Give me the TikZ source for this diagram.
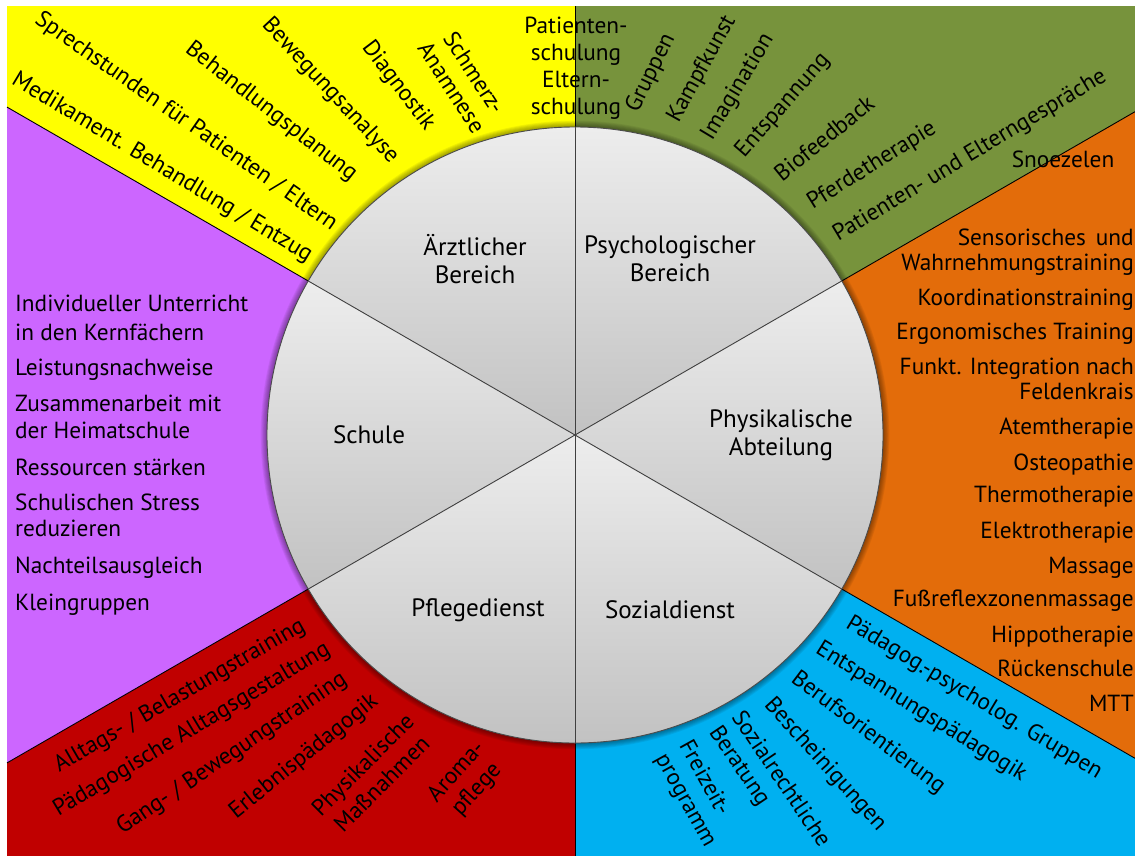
\documentclass[tikz,border=0pt]{standalone}
\usepackage{fontspec}
\setmainfont{PT Sans}
\begin{document}
\begin{tikzpicture}[x=1bp,y=-1bp,
  item/.style={font=\fontsize{23.4}{27}\selectfont, inner sep=0pt, text=black},
  fan/.style={item, anchor=center},
  fanblock/.style={item, anchor=center, align=center},
  sectlabel/.style={inner sep=0pt, align=center, font=\fontsize{25.2}{28}\selectfont},
  divider/.style={draw=black, line width=0.9bp},
  spoke/.style={draw=black!75, line width=0.9bp},
  wedge/.style={top color=black!7, bottom color=black!24}
]
\definecolor{cYellow}{RGB}{255,255,0}
\definecolor{cGreen}{RGB}{119,147,60}
\definecolor{cOrange}{RGB}{227,108,10}
\definecolor{cBlue}{RGB}{0,176,240}
\definecolor{cRed}{RGB}{192,0,0}
\definecolor{cPurple}{RGB}{204,102,255}

\useasboundingbox (0,0) rectangle (1135,856);
\coordinate (C) at (575,435);

% outer coloured fields, one per department
\coordinate (T)  at (575,6);
\coordinate (B)  at (575,856);
\coordinate (UL) at (7,107.1);
\coordinate (LL) at (7,762.9);
\coordinate (UR) at (1135,111.7);
\coordinate (LR) at (1135,758.3);
\fill[cYellow] (C) -- (UL) -- (7,6) -- (T) -- cycle;
\fill[cGreen]  (C) -- (T) -- (1135,6) -- (UR) -- cycle;
\fill[cOrange] (C) -- (UR) -- (LR) -- cycle;
\fill[cBlue]   (C) -- (LR) -- (1135,856) -- (B) -- cycle;
\fill[cRed]    (C) -- (B) -- (7,856) -- (LL) -- cycle;
\fill[cPurple] (C) -- (LL) -- (UL) -- cycle;

% field borders outside the disc
\coordinate (P90)  at (575,127);
\coordinate (P30)  at (841.7,281);
\coordinate (P330) at (841.7,589);
\coordinate (P270) at (575,743);
\coordinate (P210) at (308.3,589);
\coordinate (P150) at (308.3,281);
\draw[divider] (P90) -- (T);
\draw[divider] (P30) -- (UR);
\draw[divider] (P330) -- (LR);
\draw[divider] (P270) -- (B);
\draw[divider] (P210) -- (LL);
\draw[divider] (P150) -- (UL);

% soft shadow of the disc
\foreach \i in {1,...,7}
  \fill[black, opacity=0.06, shift={(0.5bp,-1.5bp)}] (C) circle[radius=308bp+\i*0.9bp];

% shaded wedges
\shade[wedge] (C) -- (P90)  arc[start angle=90,  end angle=30,  radius=308bp] -- cycle;
\shade[wedge] (C) -- (P30)  arc[start angle=30,  end angle=-30, radius=308bp] -- cycle;
\shade[wedge] (C) -- (P330) arc[start angle=-30, end angle=-90, radius=308bp] -- cycle;
\shade[wedge] (C) -- (P270) arc[start angle=270, end angle=210, radius=308bp] -- cycle;
\shade[wedge] (C) -- (P210) arc[start angle=210, end angle=150, radius=308bp] -- cycle;
\shade[wedge] (C) -- (P150) arc[start angle=150, end angle=90,  radius=308bp] -- cycle;
\foreach \p in {P90,P30,P330,P270,P210,P150}
  \draw[spoke] (C) -- (\p);
\draw[draw=black!70, line width=0.9bp] (C) circle[radius=308bp];

% department names
\node[sectlabel] (arzt)  at (475,259) {Ärztlicher\\Bereich};
\node[sectlabel] (psych) at (670,259) {Psychologischer\\Bereich};
\node[sectlabel] (phys)  at (781,435) {Physikalische\\Abteilung};
\node[sectlabel] (schule) at (369,435) {Schule};
\node[sectlabel] (pflege) at (478,610) {Pflegedienst};
\node[sectlabel] (sozial) at (670,610) {Sozialdienst};

% Ärztlicher Bereich
\node[fan, rotate=-31] (a1) at (162,168) {Medikament. Behandlung / Entzug};
\node[fan, rotate=-35] (a2) at (186,122) {Sprechstunden für Patienten / Eltern};
\node[fan, rotate=-38] (a3) at (271,112) {Behandlungsplanung};
\node[fan, rotate=-47] (a4) at (330,91) {Bewegungsanalyse};
\node[fan, rotate=-53] (a5) at (398,86) {Diagnostik};
\node[fanblock, rotate=-57] (a6) at (463,80) {Schmerz-\\Anamnese};
\node[fanblock] (a7) at (576,68) {Patienten-\\schulung\\Eltern-\\schulung};

% Psychologischer Bereich
\node[fan, rotate=64] (b1) at (651,73) {Gruppen};
\node[fan, rotate=61] (b2) at (702,69) {Kampfkunst};
\node[fan, rotate=59] (b3) at (738,87) {Imagination};
\node[fan, rotate=49] (b4) at (783,106) {Entspannung};
\node[fan, rotate=39] (b5) at (824,138) {Biofeedback};
\node[fan, rotate=32] (b6) at (872,166) {Pferdetherapie};
\node[fan, rotate=31] (b7) at (970,156) {Patienten- und Elterngespräche};
\node[item, anchor=base] (b8) at (1063,167) {Snoezelen};

% Physikalische Abteilung
\foreach \t/\y [count=\k] in {
  {Sensorisches\hspace{10bp}und}/245, Wahrnehmungstraining/270,
  Koordinationstraining/305, Ergonomisches Training/339,
  Funkt. Integration nach/374, Feldenkrais/399, Atemtherapie/434,
  Osteopathie/470, Thermotherapie/502, Elektrotherapie/538, Massage/573,
  Fußreflexzonenmassage/606, Hippotherapie/642, Rückenschule/676, MTT/711}
  \node[item, anchor=base east] (c\k) at (1134,\y) {\t};

% Schule
\foreach \t/\y [count=\k] in {
  Individueller Unterricht/311, in den Kernfächern/340,
  Leistungsnachweise/375, Zusammenarbeit mit/411, der Heimatschule/438,
  Ressourcen stärken/475, Schulischen Stress/510, reduzieren/536,
  Nachteilsausgleich/573, Kleingruppen/610}
  \node[item, anchor=base west] (s\k) at (15,\y) {\t};

% Pflegedienst
\node[fan, rotate=30] (p1) at (180,696) {Alltags- / Belastungstraining};
\node[fan, rotate=31] (p2) at (192,730) {Pädagogische Alltagsgestaltung};
\node[fan, rotate=34] (p3) at (232,754) {Gang- / Bewegungstraining};
\node[fan, rotate=39] (p4) at (304,757) {Erlebnispädagogik};
\node[fanblock, rotate=45] (p5) at (372,774) {Physikalische\\Maßnahmen};
\node[fanblock, rotate=48] (p6) at (467,781) {Aroma-\\pflege};

% Sozialdienst
\node[fan, rotate=-31] (d1) at (974,698) {Pädagog.-psycholog. Gruppen};
\node[fan, rotate=-32] (d2) at (921,712) {Entspannungspädagogik};
\node[fan, rotate=-37] (d3) at (868,733) {Berufsorientierung};
\node[fan, rotate=-48] (d4) at (825,765) {Bescheinigungen};
\node[fanblock, align=left, rotate=-56] (d5) at (769,787) {Sozialrechtliche\\Beratung};
\node[fanblock, align=left, rotate=-61] (d6) at (697,794) {Freizeit-\\programm};
\end{tikzpicture}
\end{document}
